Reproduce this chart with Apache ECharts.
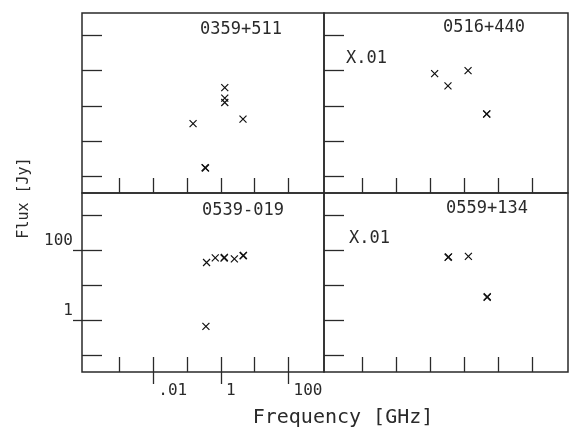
<!DOCTYPE html>
<html>
<head>
    <meta charset="utf-8">
    <title>Flux / Frequency</title>
    <script src="https://cdn.jsdelivr.net/npm/echarts@6/dist/echarts.min.js"></script>
    <style>
        html, body { margin: 0; padding: 0; background: #fff; }
        #chart { width: 569px; height: 427px; }
    </style>
</head>
<body>
<div id="chart"></div>
<script>
    // 0359+511 (top left)
    var freqA = [0.15, 0.34, 0.35, 1.3, 1.3, 1.3, 4.5];
    var fluxA = [3.1, 0.175, 0.17, 33, 16.6, 12.4, 4.2];
    // 0516+440 (top right, x.01)
    var freqB = [0.137, 0.337, 1.31, 4.6, 4.65];
    var fluxB = [82, 37, 100, 5.8, 5.9];
    // 0539-019 (bottom left)
    var freqC = [0.376, 0.68, 1.24, 1.27, 2.5, 4.55, 4.65, 0.36];
    var fluxC = [45, 61, 60, 63, 57, 70, 72, 0.67];
    // 0559+134 (bottom right, x.01)
    var freqD = [0.34, 0.35, 1.34, 4.75, 4.8];
    var fluxD = [63, 65, 67, 4.5, 4.7];

    var titles = ['0359+511', '0516+440', '0539-019', '0559+134'];
    var xTicks = [-3, -2, -1, 0, 1, 2];     // log10 GHz
    var yTicks = [-1, 0, 1, 2, 3];          // log10 Jy
    var xLabelTicks = [-2, 0, 2];
    var yLabelTicks = [0, 2];
    var tickText = {'-2': '.01', '0': '1', '2': '100'};

    var ink = '#2a2a2a';
    var mono = 'DejaVu Sans Mono';
    var xMin = -4.11, xMax = 3.05;
    var yMin = -1.48, yMax = 3.64;

    function toLog(xs, ys) {
        return xs.map(function (f, i) {
            return [Math.log10(f), Math.log10(ys[i])];
        });
    }

    var grids = [
        {left: 82, top: 13, width: 242, height: 180},
        {left: 324, top: 13, width: 244, height: 180},
        {left: 82, top: 193, width: 242, height: 179},
        {left: 324, top: 193, width: 244, height: 179}
    ].map(function (g) {
        g.show = true;
        g.borderColor = ink;
        g.borderWidth = 1.5;
        g.outerBoundsMode = 'none';
        return g;
    });

    var xAxes = [], yAxes = [];
    for (var i = 0; i < 4; i++) {
        xAxes.push({
            type: 'value', gridIndex: i, min: xMin, max: xMax, position: 'bottom',
            axisLine: {show: false, onZero: false},
            splitLine: {show: false},
            axisTick: {show: true, inside: true, length: 15, customValues: xTicks,
                lineStyle: {color: ink, width: 1.3}},
            axisLabel: {show: false}
        });
        yAxes.push({
            type: 'value', gridIndex: i, min: yMin, max: yMax, position: 'left',
            axisLine: {show: false, onZero: false},
            splitLine: {show: false},
            axisTick: {show: true, inside: true, length: 20, customValues: yTicks,
                lineStyle: {color: ink, width: 1.3}},
            axisLabel: {show: false}
        });
    }
    // labelled decades on the lower left panel, ticks poking outward
    xAxes.push({
        type: 'value', gridIndex: 2, min: xMin, max: xMax, position: 'bottom',
        axisLine: {show: false, onZero: false},
        splitLine: {show: false},
        axisTick: {show: true, inside: false, length: 12, customValues: xLabelTicks,
            lineStyle: {color: ink, width: 1.3}},
        axisLabel: {
            show: true, customValues: xLabelTicks, margin: 11,
            align: 'left', padding: [0, 0, 0, 5],
            fontFamily: mono, fontSize: 16, color: ink,
            formatter: function (v) { return tickText[String(Math.round(v))]; }
        }
    });
    yAxes.push({
        type: 'value', gridIndex: 2, min: yMin, max: yMax, position: 'left',
        axisLine: {show: false, onZero: false},
        splitLine: {show: false},
        axisTick: {show: true, inside: false, length: 9, customValues: yLabelTicks,
            lineStyle: {color: ink, width: 1.3}},
        axisLabel: {
            show: true, customValues: yLabelTicks, margin: 9,
            verticalAlign: 'bottom', padding: [0, 0, 1, 0],
            fontFamily: mono, fontSize: 16, color: ink,
            formatter: function (v) { return tickText[String(Math.round(v))]; }
        }
    });

    var sets = [[freqA, fluxA], [freqB, fluxB], [freqC, fluxC], [freqD, fluxD]];
    var series = sets.map(function (s, i) {
        return {
            type: 'scatter', xAxisIndex: i, yAxisIndex: i,
            data: toLog(s[0], s[1]),
            symbol: 'path://M0,0L10,10M10,0L0,10',
            symbolSize: 7,
            silent: true,
            itemStyle: {color: 'none', borderColor: '#111', borderWidth: 1.2, opacity: 1}
        };
    });

    function label(text, x, y, size, extra) {
        var el = {
            type: 'text', x: x, y: y,
            style: {
                text: text, fill: ink, fontFamily: mono, fontSize: size,
                align: 'left', verticalAlign: 'middle',
                textAlign: 'left', textVerticalAlign: 'middle'
            }
        };
        if (extra) {
            for (var k in extra) el[k] = extra[k];
        }
        return el;
    }

    var graphics = [
        label(titles[0], 200, 30, 17),
        label(titles[1], 443, 28, 17),
        label('X.01', 346, 59, 17),
        label(titles[2], 202, 211, 17),
        label(titles[3], 446, 209, 17),
        label('X.01', 349, 239, 17),
        label('Flux [Jy]', 24, 198, 15, {rotation: Math.PI / 2}),
        label('Frequency [GHz]', 343, 418, 20)
    ];
    graphics[6].style.align = graphics[6].style.textAlign = 'center';
    graphics[7].style.align = graphics[7].style.textAlign = 'center';

    var myChart = echarts.init(document.getElementById('chart'), null, {renderer: 'canvas'});
    myChart.setOption({
        animation: false,
        backgroundColor: '#fff',
        grid: grids,
        xAxis: xAxes,
        yAxis: yAxes,
        series: series,
        graphic: graphics
    });
</script>
</body>
</html>
